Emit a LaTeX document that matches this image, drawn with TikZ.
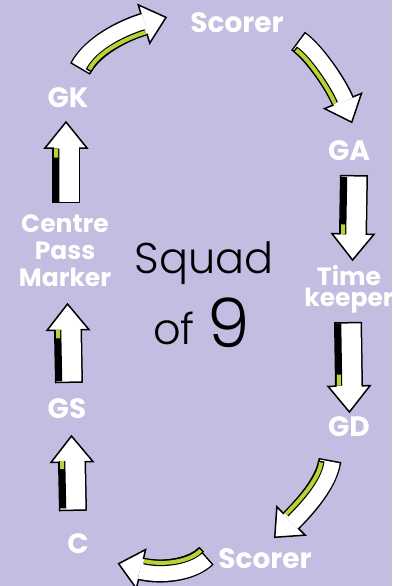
\documentclass[tikz,border=0pt]{standalone}
\usepackage{fontspec}
\setmainfont{Poppins}
\newfontfamily\handfont{Poppins}[UprightFont={* Light}]
\usetikzlibrary{calc}

\definecolor{squadbg}{RGB}{193,190,225}
\definecolor{limegreen}{RGB}{182,212,52}

% arrow sizes (changed for the straight ones)
\newcommand{\headw}{20pt}
\newcommand{\headl}{23pt}
\newcommand{\stripoff}{8.5pt}

% tail, control, control, head base, inner side, strip colour
\newcommand{\flowarrow}[6]{%
  \draw[shaft out] (#1) .. controls (#2) and (#3) .. (#4);
  \filldraw[arrow head] ($(#4)!\headw!90:(#3)$) -- ($(#4)!-\headl!(#3)$) -- ($(#4)!\headw!-90:(#3)$) -- cycle;
  \draw[shaft in] (#1) .. controls (#2) and (#3) .. (#4);
  \draw[strip edge] ($(#1)!\stripoff!(#5)$) .. controls ($(#2)!\stripoff!(#5)$) and ($(#3)!\stripoff!(#5)$) .. ($(#4)!\stripoff!(#5)$);
  \draw[strip, #6] ($(#1)!\stripoff!(#5)$) .. controls ($(#2)!\stripoff!(#5)$) and ($(#3)!\stripoff!(#5)$) .. ($(#4)!\stripoff!(#5)$);
}
\newcommand{\straightflow}[3]{%
  \coordinate (sa) at ($(#1)!0.33!(#2)$);
  \coordinate (sb) at ($(#1)!0.67!(#2)$);
  \flowarrow{#1}{sa}{sb}{#2}{#3}{black}
  \coordinate (sg) at ($(#1)!0.78!(#2)$);
  \draw[strip, limegreen] ($(sg)!\stripoff!(#3)$) -- ($(#2)!\stripoff!(#3)$);
}

\begin{document}
\begin{tikzpicture}[
  x=1pt, y=-1pt,
  shaft out/.style={line width=23pt, black},
  shaft in/.style={line width=20pt, white, shorten >=-1pt, shorten <=1.5pt},
  arrow head/.style={fill=white, draw=black, line width=1.5pt, line join=miter},
  strip edge/.style={line width=6.5pt, black, shorten <=1.5pt},
  strip/.style={line width=4pt, shorten <=3pt},
  posname/.style={text=white, inner sep=0pt, font=\bfseries\fontsize{28}{28}\selectfont},
  hand/.style={text=black, inner sep=0pt, font=\handfont\fontsize{43}{43}\selectfont}
]
\useasboundingbox (0,0) rectangle (392,586);
\fill[squadbg] (0,0) rectangle (392,586);

% positions round the court
\node[posname, anchor=base] (scorer top) at (237,33) {Scorer};
\node[posname, anchor=base] (gk) at (68,107) {GK};
\node[posname, anchor=base] (ga) at (349,160) {GA};
\node[posname, anchor=north, align=center,
      font=\bfseries\fontsize{25}{27}\selectfont] (centre) at (65,215) {Centre\\Pass\\Marker};
\node[posname, anchor=north, align=center,
      font=\bfseries\fontsize{25}{21}\selectfont] (time) at (349,265) {Time\\keeper};
\node[posname, anchor=base] (gs) at (67,418) {GS};
\node[posname, anchor=base] (gd) at (349,436) {GD};
\node[posname, anchor=base] (c) at (78,553) {C};
\node[posname, anchor=base] (scorer bottom) at (265,568) {Scorer};

% middle
\node[hand, anchor=base] (squad) at (204,273) {Squad};
\node[hand, anchor=base] (of) at (174,344) {of};
\node[hand, anchor=base, font=\handfont\fontsize{68}{68}\selectfont] (nine) at (229,347) {9};

% arrow ends
\coordinate (gk out) at (80,69);
\coordinate (scorer top in) at (144,24);
\coordinate (scorer top out) at (298,41);
\coordinate (ga in) at (343,101);
\coordinate (gd out) at (330,460);
\coordinate (scorer bottom in) at (291,521);
\coordinate (scorer bottom out) at (206,556);
\coordinate (c in) at (141,569);

% curved arrows
\flowarrow{gk out}{92,46}{124,30}{scorer top in}{158,100}{limegreen}
\flowarrow{scorer top out}{313,51}{336,84}{ga in}{245,130}{limegreen}
\flowarrow{gd out}{327,482}{306,506}{scorer bottom in}{245,455}{limegreen}
\flowarrow{scorer bottom out}{192,570}{162,574}{c in}{175,480}{limegreen}

% straight arrows
\coordinate (west) at (-2000,290);
\coordinate (ga out) at (354,175);
\coordinate (time in) at (353,234);
\coordinate (time out) at (348,322);
\coordinate (gd in) at (349,386);
\coordinate (c out) at (73,511);
\coordinate (gs in) at (72,462);
\coordinate (gs out) at (69,383);
\coordinate (centre in) at (68,330);
\coordinate (centre out) at (66,203);
\coordinate (gk in) at (66,148);
\begin{scope}[shaft out/.style={line width=28pt, black},
              shaft in/.style={line width=25pt, white, shorten >=-1pt, shorten <=1.5pt}]
  \renewcommand{\headw}{21pt}
  \renewcommand{\headl}{26pt}
  \renewcommand{\stripoff}{10pt}
  \straightflow{ga out}{time in}{west}
  \straightflow{time out}{gd in}{west}
  \straightflow{c out}{gs in}{west}
  \straightflow{gs out}{centre in}{west}
  \straightflow{centre out}{gk in}{west}
\end{scope}
\end{tikzpicture}
\end{document}
